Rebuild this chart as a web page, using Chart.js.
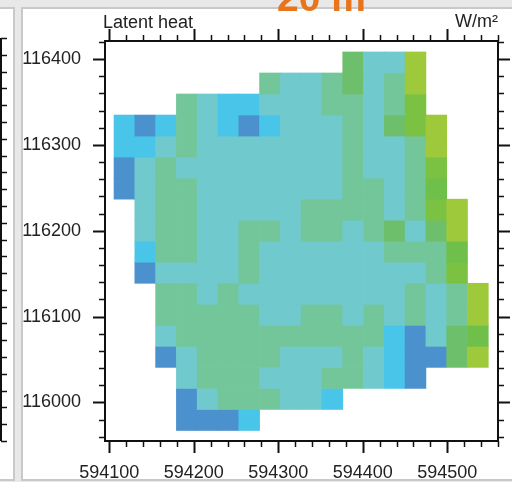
<!DOCTYPE html>
<html>
<head>
<meta charset="utf-8">
<style>
  html, body { margin: 0; height: 100%; background: #e8e8e8; overflow: hidden; }
  body { font-family: "Liberation Sans", sans-serif; color: #222; }
  .panel { position: absolute; top: 7px; background: #fff; border: 2px solid #c9c9c9; box-sizing: border-box; height: 474px; }
  #panelLeft { left: -4px; width: 19px; }
  #panelMain { left: 21px; width: 500px; }
  canvas { position: absolute; top: 0; filter: blur(0.45px); }
  #chart { left: 0; }
  #neighbour { left: 0; }
  .label { position: absolute; white-space: nowrap; line-height: 1; }
  #leftLabel { left: 103px; top: 13px; font-size: 18px; }
  #rightLabel { left: 455px; top: 12px; font-size: 18px; }
  #title { left: 277px; top: -22px; font-size: 39px; font-weight: bold; color: #e8741c; }
</style>
</head>
<body>
<div class="panel" id="panelLeft"></div>
<div class="panel" id="panelMain"></div>
<canvas id="neighbour" width="16" height="482"></canvas>
<canvas id="chart" width="512" height="482"></canvas>
<div class="label" id="leftLabel">Latent heat</div>
<div class="label" id="rightLabel">W/m²</div>
<div class="label" id="title">20 m</div>
<script src="https://cdn.jsdelivr.net/npm/chart.js@4"></script>
<script>
// ========= Data =========
const xCells = [594118, 594142.6, 594167.2, 594191.8, 594216.4, 594241, 594265.6, 594290.2, 594314.8,
                594339.4, 594364, 594388.6, 594413.2, 594437.8, 594462.4, 594487, 594511.6, 594536.2];
const yCells = [116396, 116371.5, 116347, 116322.5, 116298, 116273.5, 116249, 116224.5, 116200,
                116175.5, 116151, 116126.5, 116102, 116077.5, 116053, 116028.5, 116004, 115979.5];
const levelColors = ['#4a91cd', '#48c5e8', '#70c9cc', '#73c69a', '#6dbf6c', '#6fbf4b', '#7cc242', '#9dc93b'];
const n = null;
// one row per yCells entry, colour class per xCells entry
const cellLevels = [
  [n, n, n, n, n, n, n, n, n, n, n, 4, 2, 2, 7, n, n, n],
  [n, n, n, n, n, n, n, 3, 2, 2, 3, 4, 2, 3, 7, n, n, n],
  [n, n, n, 3, 2, 1, 1, 2, 2, 2, 3, 3, 2, 3, 6, n, n, n],
  [1, 0, 1, 3, 2, 1, 0, 1, 2, 2, 2, 3, 2, 4, 6, 7, n, n],
  [1, 1, 2, 3, 2, 2, 2, 2, 2, 2, 2, 3, 2, 2, 3, 7, n, n],
  [0, 2, 3, 2, 2, 2, 2, 2, 2, 2, 2, 3, 2, 2, 3, 6, n, n],
  [0, 2, 3, 3, 2, 2, 2, 2, 2, 2, 2, 3, 3, 2, 3, 5, n, n],
  [n, 2, 3, 3, 2, 2, 2, 2, 2, 3, 3, 3, 3, 2, 3, 6, 7, n],
  [n, 2, 3, 3, 2, 2, 3, 3, 2, 3, 3, 2, 3, 4, 2, 4, 7, n],
  [n, 1, 3, 3, 2, 2, 3, 2, 2, 2, 2, 2, 2, 3, 3, 3, 5, n],
  [n, 0, 2, 2, 2, 2, 3, 2, 2, 2, 2, 2, 2, 2, 2, 3, 6, n],
  [n, n, 3, 3, 2, 3, 2, 2, 2, 2, 2, 2, 2, 2, 3, 2, 3, 7],
  [n, n, 3, 3, 3, 3, 3, 2, 2, 3, 3, 2, 3, 2, 3, 2, 3, 7],
  [n, n, 2, 3, 3, 3, 3, 3, 3, 3, 3, 3, 3, 1, 0, 2, 4, 5],
  [n, n, 0, 2, 3, 3, 3, 3, 2, 2, 2, 3, 2, 1, 0, 0, 4, 7],
  [n, n, n, 2, 3, 3, 3, 2, 2, 2, 3, 3, 2, 1, 0, n, n, n],
  [n, n, n, 0, 2, 3, 3, 3, 2, 2, 1, n, n, n, n, n, n, n],
  [n, n, n, 0, 0, 0, 1, n, n, n, n, n, n, n, n, n, n, n]
];
const rowHalfHeight = 12.25;

// ========= Bars, one dataset per row =========
const datasets = cellLevels.map((row, r) => {
  const cells = [];
  const colors = [];
  row.forEach((level, c) => {
    if (level === null) return;
    cells.push({ x: xCells[c], y: [yCells[r] - rowHalfHeight, yCells[r] + rowHalfHeight] });
    colors.push(levelColors[level]);
  });
  return { data: cells, backgroundColor: colors, borderWidth: 0, barThickness: 20.8, grouped: false };
});

// ========= Outward ticks =========
function tickMarks(ctx, scale, from, dir, horizontal) {
  scale.ticks.forEach(t => {
    const p = Math.round(scale.getPixelForValue(t.value)) + 0.5;
    const len = t.value % 100 === 0 ? 12 : 6;
    ctx.lineWidth = t.value % 100 === 0 ? 2 : 1.5;
    ctx.beginPath();
    if (horizontal) { ctx.moveTo(p, from); ctx.lineTo(p, from + dir * len); }
    else { ctx.moveTo(from, p); ctx.lineTo(from + dir * len, p); }
    ctx.stroke();
  });
}

const frameTicks = {
  id: 'frameTicks',
  afterDraw(chart) {
    const { ctx, chartArea: a, scales } = chart;
    ctx.save();
    ctx.strokeStyle = '#111';
    tickMarks(ctx, scales.x, a.bottom, 1, true);
    tickMarks(ctx, scales.x, a.top, -1, true);
    tickMarks(ctx, scales.y, a.left, -1, false);
    tickMarks(ctx, scales.y, a.right, 1, false);
    ctx.lineWidth = 2;
    ctx.strokeRect(a.left, a.top, a.right - a.left, a.bottom - a.top);
    ctx.restore();
  }
};

Chart.defaults.font.family = '"Liberation Sans", sans-serif';
Chart.defaults.font.size = 18;
Chart.defaults.color = '#222';

const showHundreds = v => (v % 100 === 0 ? String(v) : '');

new Chart(document.getElementById('chart'), {
  type: 'bar',
  data: { datasets },
  options: {
    responsive: false,
    animation: false,
    layout: { padding: { top: 41, right: 14, left: 0, bottom: 0 } },
    plugins: { legend: { display: false }, tooltip: { enabled: false } },
    scales: {
      x: {
        type: 'linear', min: 594095, max: 594560, offset: false,
        grid: { display: false, drawTicks: false }, border: { display: false },
        ticks: { stepSize: 20, includeBounds: false, autoSkip: false, maxRotation: 0, padding: 21, callback: showHundreds },
        afterFit(s) { s.height = 41; s.paddingLeft = 0; s.paddingRight = 0; }
      },
      y: {
        type: 'linear', min: 115955, max: 116421,
        grid: { display: false, drawTicks: false }, border: { display: false },
        ticks: { stepSize: 20, includeBounds: false, autoSkip: false, padding: 24, callback: showHundreds },
        afterFit(s) { s.width = 105; s.paddingTop = 0; s.paddingBottom = 0; }
      }
    }
  },
  plugins: [frameTicks]
});

// ========= Right axis of the neighbouring panel =========
const neighbourTicks = {
  id: 'neighbourTicks',
  afterDraw(chart) {
    const { ctx, chartArea: a, scales } = chart;
    ctx.save();
    ctx.strokeStyle = '#111';
    tickMarks(ctx, scales.y, 1, 1, false);
    ctx.lineWidth = 2;
    ctx.beginPath();
    ctx.moveTo(1, a.top);
    ctx.lineTo(1, a.bottom);
    ctx.stroke();
    ctx.restore();
  }
};

new Chart(document.getElementById('neighbour'), {
  type: 'bar',
  data: { datasets: [] },
  options: {
    responsive: false,
    animation: false,
    layout: { padding: { top: 38, bottom: 41 } },
    plugins: { legend: { display: false }, tooltip: { enabled: false } },
    scales: {
      x: { display: false },
      y: {
        type: 'linear', min: 115946, max: 116426, display: true,
        grid: { display: false, drawTicks: false }, border: { display: false },
        ticks: { stepSize: 20, includeBounds: false, autoSkip: false, display: false },
        afterFit(s) { s.width = 0; }
      }
    }
  },
  plugins: [neighbourTicks]
});
</script>
</body>
</html>
